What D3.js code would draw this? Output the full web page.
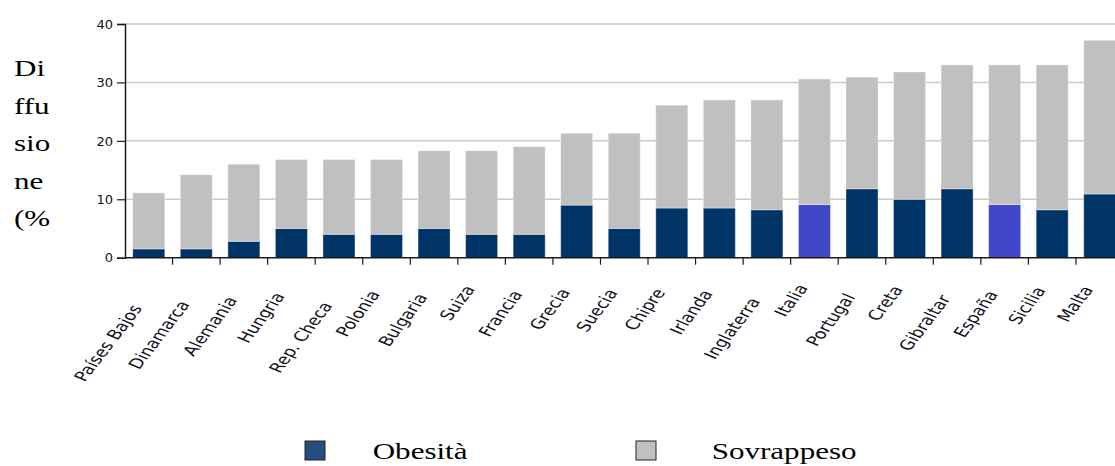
<!DOCTYPE html>
<html>
<head>
<meta charset="utf-8">
<script src="https://cdn.jsdelivr.net/npm/d3@7"></script>
<style>
  html, body { margin: 0; padding: 0; background: #ffffff; }
  svg { display: block; }
</style>
</head>
<body>
<svg id="chart" width="1115" height="466"></svg>
<script>
// Countries along the x axis
const countries = ["Países Bajos", "Dinamarca", "Alemania", "Hungria", "Rep. Checa", "Polonia",
  "Bulgaria", "Suiza", "Francia", "Grecia", "Suecia", "Chipre", "Irlanda", "Inglaterra",
  "Italia", "Portugal", "Creta", "Gibraltar", "España", "Sicilia", "Malta"];

// Obesity share (%), bottom segment
const obesita = [1.5, 1.5, 2.8, 5, 4, 4, 5, 4, 4, 9, 5, 8.5, 8.5, 8.2, 9.1, 11.8, 10, 11.8, 9.1, 8.2, 10.9];

// Overweight share (%), stacked above obesity
const sovrappeso = [9.6, 12.7, 13.2, 11.8, 12.8, 12.8, 13.3, 14.3, 15.0, 12.3, 16.3, 17.6, 18.5, 18.8,
  21.5, 19.1, 21.8, 21.2, 23.9, 24.8, 26.3];

// Countries whose obesity segment is highlighted
const highlighted = ["Italia", "España"];

const yTicks = [0, 10, 20, 30, 40];
const yTitleLines = ["Di", "ffu", "sio", "ne", "(%"];
const seriesNames = ["Obesità", "Sovrappeso"];

const W = 1115, H = 466;
const svg = d3.select("#chart");

const COLORS = { obesita: "#003366", highlight: "#4047c9", sovrappeso: "#c0c0c0" };

const x = d3.scaleBand()
  .domain(countries)
  .range([125, 1123.5])
  .paddingInner(0.327)
  .paddingOuter(0.1635);

const y = d3.scaleLinear().domain([0, 40]).range([257.7, 24]);

const rows = countries.map((c, i) => ({ country: c, obesita: obesita[i], sovrappeso: sovrappeso[i] }));
const stacked = d3.stack().keys(["obesita", "sovrappeso"])(rows);

// Horizontal gridlines
svg.append("g")
  .selectAll("line")
  .data(yTicks.filter(t => t > 0))
  .join("line")
  .attr("x1", x.range()[0]).attr("x2", W)
  .attr("y1", d => y(d)).attr("y2", d => y(d))
  .attr("stroke", "#c9c9c9").attr("stroke-width", 1.5);

// Stacked bars
svg.append("g")
  .selectAll("g")
  .data(stacked)
  .join("g")
  .selectAll("rect")
  .data(s => s.map(d => ({ key: s.key, d })))
  .join("rect")
  .attr("x", p => x(p.d.data.country))
  .attr("width", x.bandwidth())
  .attr("y", p => y(p.d[1]))
  .attr("height", p => y(p.d[0]) - y(p.d[1]))
  .attr("fill", p => p.key === "sovrappeso" ? COLORS.sovrappeso
    : (highlighted.includes(p.d.data.country) ? COLORS.highlight : COLORS.obesita))
  .attr("stroke", "#ffffff").attr("stroke-opacity", 0.35).attr("stroke-width", 1);

// Y axis
const yAxis = svg.append("g")
  .attr("transform", `translate(${x.range()[0]},0)`)
  .call(d3.axisLeft(y).tickValues(yTicks).tickSize(8).tickPadding(4).tickFormat(d3.format("d")));
yAxis.select(".domain").attr("stroke", "#1a1a1a").attr("stroke-width", 1.5);
yAxis.selectAll(".tick line").attr("stroke", "#1a1a1a").attr("stroke-width", 1.2);
yAxis.selectAll(".tick text")
  .attr("font-family", "DejaVu Sans").attr("font-size", 13).attr("fill", "#111");

// X axis line with ticks between categories
const xAxis = svg.append("g");
xAxis.append("line")
  .attr("x1", x.range()[0]).attr("x2", W)
  .attr("y1", y(0)).attr("y2", y(0))
  .attr("stroke", "#1a1a1a").attr("stroke-width", 1.5);
xAxis.selectAll("line.tick")
  .data(countries.slice(1))
  .join("line")
  .attr("class", "tick")
  .attr("x1", c => x(c) - x.step() * x.paddingInner() / 2)
  .attr("x2", c => x(c) - x.step() * x.paddingInner() / 2)
  .attr("y1", y(0)).attr("y2", y(0) + 7)
  .attr("stroke", "#1a1a1a").attr("stroke-width", 1.2);

// Rotated category labels: end just left of each bar centre,
// longer labels sitting a little lower
const labels = svg.append("g")
  .selectAll("text")
  .data(countries)
  .join("text")
  .attr("text-anchor", "end")
  .attr("font-family", "DejaVu Sans")
  .attr("font-size", 14)
  .attr("fill", "#101020")
  .text(c => c);
labels.each(function (c) {
  const len = this.getComputedTextLength();
  const extent = 0.866 * len + 7;
  const ly = 271 + 0.457 * extent;
  const lx = x(c) + x.bandwidth() / 2 - 6;
  d3.select(this).attr("transform", `translate(${lx},${ly}) scale(1.35,1) rotate(-60)`);
});

// Y axis title, broken over several lines
svg.append("g")
  .selectAll("text")
  .data(yTitleLines)
  .join("text")
  .attr("transform", (d, i) => `translate(14,${76 + i * 37.5}) scale(1.35,1)`)
  .attr("font-family", "Liberation Serif")
  .attr("font-size", 23)
  .attr("fill", "#000")
  .text(d => d);

// Legend
const legend = svg.append("g");
const legendItems = [
  { name: seriesNames[0], fill: "#244d80", sx: 305, tx: 372.7 },
  { name: seriesNames[1], fill: COLORS.sovrappeso, sx: 636, tx: 711.7 }
];
legend.selectAll("rect")
  .data(legendItems)
  .join("rect")
  .attr("x", d => d.sx).attr("y", 441)
  .attr("width", 20).attr("height", 19)
  .attr("fill", d => d.fill)
  .attr("stroke", "#222").attr("stroke-width", 1);
legend.selectAll("text")
  .data(legendItems)
  .join("text")
  .attr("transform", d => `translate(${d.tx},459) scale(1.35,1)`)
  .attr("font-family", "Liberation Serif")
  .attr("font-size", 23)
  .attr("fill", "#000")
  .text(d => d.name);
</script>
</body>
</html>
